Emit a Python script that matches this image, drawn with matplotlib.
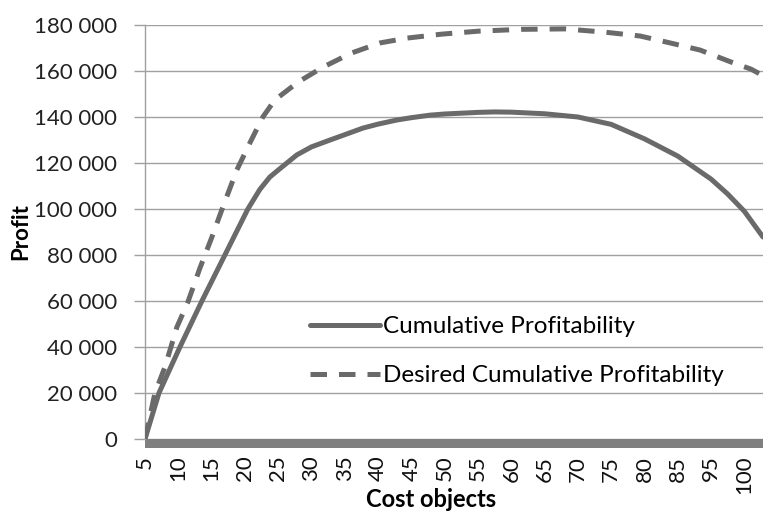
import matplotlib
matplotlib.use("Agg")
import matplotlib.pyplot as plt
from matplotlib.patches import Rectangle
from matplotlib.ticker import FuncFormatter, MultipleLocator

# Category tick labels (as printed on the chart, note 90 is absent)
tick_labels = ["5", "10", "15", "20", "25", "30", "35", "40", "45", "50",
               "55", "60", "65", "70", "75", "80", "85", "95", "100"]

# Positions along the category axis, in tick-slot units
cum_x = [0.0, 0.42, 1.05, 1.71, 2.4, 3.09, 3.45, 3.75, 4.05, 4.56, 5.0, 5.56,
         6.0, 6.55, 7.0, 7.57, 8.0, 8.56, 9.0, 10.0, 10.5, 11.0, 12.0, 13.0,
         14.0, 15.0, 16.0, 17.0, 17.5, 18.0, 18.56]
cum_profit = [0, 20000, 40000, 60000, 80000, 100000, 108500, 113900, 117500,
              123500, 127000, 130000, 132300, 135200, 136900, 138700, 139700,
              140800, 141300, 142000, 142200, 142100, 141400, 140000, 136800,
              130500, 123000, 113000, 106500, 99000, 87800]

des_x = [0.0, 0.3, 0.6, 0.96, 1.29, 1.65, 2.0, 2.34, 2.76, 3.15, 3.54, 3.9,
         4.6, 5.35, 6.2, 7.06, 7.87, 8.9, 10.0, 11.3, 12.6, 13.8, 14.87, 15.77,
         16.67, 17.6, 18.2, 18.56]
des_profit = [0, 20000, 31300, 48700, 59600, 74300, 87400, 100900, 117000,
              128700, 140000, 147400, 155200, 161700, 167800, 172200, 174300,
              176000, 177300, 178100, 178300, 176900, 175200, 172200, 169100,
              163900, 160800, 158000]

series_names = ["Cumulative Profitability", "Desired Cumulative Profitability"]

plt.rcParams['font.family'] = ['Lato', 'DejaVu Sans']

fig = plt.figure(figsize=(7.63, 5.14), dpi=100)
ax = fig.add_axes([0.19, 0.1459, 0.81, 0.8055])

line_col = "#6a6a6a"
ax.plot(cum_x, cum_profit, color=line_col, lw=3.6, solid_capstyle='round',
        solid_joinstyle='round', label=series_names[0], zorder=3)
ax.plot(des_x, des_profit, color=line_col, lw=3.6, dashes=(3.3, 2.4),
        label=series_names[1], zorder=3)

ax.set_xlim(0, 18.56)
ax.set_ylim(0, 180000)
ax.yaxis.set_major_locator(MultipleLocator(20000))
ax.yaxis.set_major_formatter(FuncFormatter(lambda v, p: f"{int(v):,}".replace(",", " ")))
ax.grid(axis='y', color="#a0a0a0", lw=1.0)
ax.set_axisbelow(True)

ax.set_xticks(range(len(tick_labels)))
ax.set_xticklabels(tick_labels, rotation=90)
ax.tick_params(axis='x', length=0, pad=12, labelsize=16, colors="#111111")
ax.tick_params(axis='y', length=8, width=1, color="#a0a0a0", pad=12,
               labelsize=16, labelcolor="#222222")

for s in ["top", "right", "bottom"]:
    ax.spines[s].set_visible(False)
ax.spines["left"].set_color("#a0a0a0")
ax.spines["left"].set_linewidth(1.0)

# thick band under the category axis
ax.add_patch(Rectangle((0, -9 / 414), 1, 9 / 414, transform=ax.transAxes,
                       clip_on=False, color="#7f7f7f", lw=0, zorder=2))

ax.set_ylabel("Profit", fontsize=16, fontweight='bold', labelpad=2)
ax.set_xlabel("Cost objects", fontsize=17, fontweight='bold', labelpad=0)
ax.xaxis.set_label_coords(0.463, -0.118)
ax.yaxis.set_label_coords(-0.184, 0.5)

leg = ax.legend(loc='upper left', bbox_to_anchor=(0.251, 0.32), frameon=False,
                fontsize=17.5, handlelength=2.9, handletextpad=0.1,
                labelspacing=1.16, borderaxespad=0)

fig.savefig("out.png", dpi=100)
